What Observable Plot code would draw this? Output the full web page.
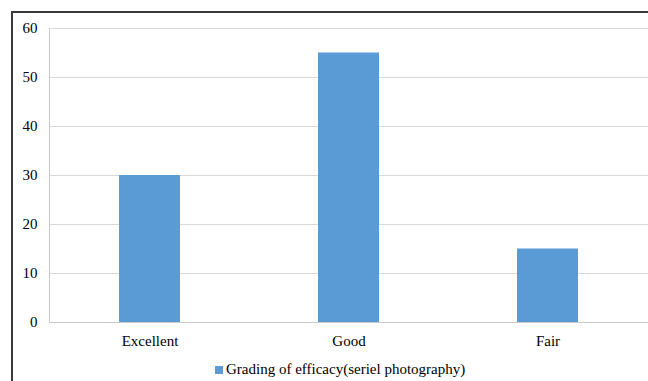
<!DOCTYPE html>
<html><head><meta charset="utf-8">
<script src="https://cdn.jsdelivr.net/npm/d3@7"></script>
<script src="https://cdn.jsdelivr.net/npm/@observablehq/plot@0.6"></script>
<style>
html,body{margin:0;padding:0;background:#fff;}
body{width:648px;height:381px;overflow:hidden;position:relative;font-family:"Liberation Serif","Times New Roman",serif;}
#frame{position:absolute;left:11px;top:11px;width:700px;height:420px;border:2px solid #3a3a3a;box-sizing:border-box;}
#chart{position:absolute;left:0;top:0;}
#chart svg, #chart svg text{font-family:"Liberation Serif","Times New Roman",serif !important;}
#legend{position:absolute;left:215px;top:360px;font-size:15px;line-height:18px;color:#000;display:flex;align-items:center;white-space:nowrap;}
#legend .sw{display:inline-block;width:8px;height:8px;background:#5B9BD5;margin-right:3px;margin-top:2px;}
</style>
</head><body>
<div id="frame"></div>
<div id="chart"></div>
<div id="legend"><span class="sw"></span><span>Grading of efficacy(seriel photography)</span></div>
<script>
const categories = ["Excellent", "Good", "Fair"];
const values = [30, 55, 15];
const yTicks = [0, 10, 20, 30, 40, 50, 60];
const seriesName = "Grading of efficacy(seriel photography)";

const data = categories.map((c, i) => ({category: c, value: values[i]}));
const serif = "Liberation Serif, Times New Roman, serif";

const chart = Plot.plot({
  width: 648,
  height: 360,
  marginLeft: 49,
  marginRight: 0,
  marginTop: 28,
  marginBottom: 38,
  style: {fontFamily: serif, fontSize: "15px", color: "#000", background: "transparent"},
  x: {domain: categories, padding: 0, axis: null},
  y: {domain: [0, 60], axis: null},
  marks: [
    Plot.gridY(yTicks, {stroke: "#d9d9d9", strokeOpacity: 1}),
    Plot.frame({anchor: "left", stroke: "#c8c8c8"}),
    Plot.barY(data, {x: "category", y: "value", fill: "#5B9BD5", insetLeft: 69, insetRight: 69}),
    Plot.ruleY([0], {stroke: "#c8c8c8"}),
    Plot.axisY(yTicks, {tickSize: 0, tickPadding: 12, label: null, fill: "#000", fontSize: 15, fontFamily: serif}),
    Plot.axisX({tickSize: 0, tickPadding: 13, label: null, fill: "#000", fontSize: 15, fontFamily: serif})
  ]
});
document.getElementById("chart").appendChild(chart);
</script>
</body></html>
